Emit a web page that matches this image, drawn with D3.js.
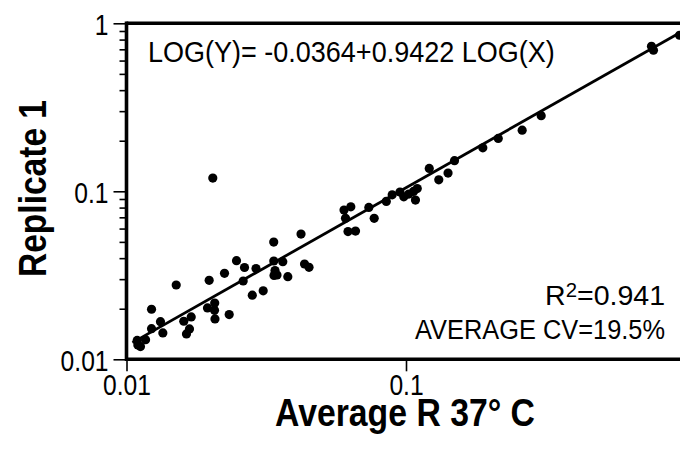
<!DOCTYPE html>
<html>
<head>
<meta charset="utf-8">
<script src="https://cdn.jsdelivr.net/npm/d3@7"></script>
<style>
  html, body { margin: 0; padding: 0; background: #fff; }
  svg { display: block; }
  text { font-family: "Liberation Sans Narrow", "Arial Narrow", "Liberation Sans", Arial, sans-serif; fill: #000; }
</style>
</head>
<body>
<svg id="chart" width="680" height="456"></svg>
<script>
// ---- data ----
const xValues = [0.01092,0.01098,0.01122,0.0117,0.01229,0.01323,0.01229,0.01349,0.01506,0.01603,
  0.01704,0.0168,0.01639,0.02036,0.01976,0.01949,0.02068,0.02065,0.02073,0.02242,
  0.0233,0.02475,0.02644,0.02615,0.02819,0.02906,0.03084,0.03363,0.03365,0.03399,
  0.03455,0.03371,0.03624,0.03777,0.04211,0.04335,0.04498,0.06001,0.06347,0.06075,
  0.06202,0.06597,0.07361,0.07695,0.08502,0.08925,0.09517,0.0982,0.1023,0.1064,
  0.1097,0.1081,0.1211,0.131,0.1414,0.1491,0.1883,0.2138,0.2604,0.3046,
  0.7556,0.768,0.952];
const yValues = [0.01295,0.01218,0.0119,0.01309,0.01986,0.01675,0.01522,0.01435,0.02769,0.01685,
  0.01787,0.01516,0.01416,0.1198,0.02953,0.02021,0.02164,0.01958,0.01739,0.0325,
  0.01845,0.03862,0.03518,0.02925,0.02408,0.03466,0.02557,0.04989,0.03846,0.03377,
  0.03175,0.03153,0.03809,0.03102,0.05566,0.03692,0.03528,0.07731,0.08087,0.06901,
  0.0576,0.058,0.08022,0.06901,0.0871,0.09533,0.0989,0.09274,0.09625,0.09986,
  0.1038,0.08867,0.1368,0.1171,0.1283,0.1522,0.1814,0.2063,0.2311,0.2819,
  0.7302,0.6911,0.8487];
const xTickValues = [0.01, 0.1];
const xTickLabels = ["0.01", "0.1"];
const yTickValues = [0.01, 0.1, 1];
const yTickLabels = ["0.01", "0.1", "1"];
const yMinorTicks = [0.02,0.03,0.04,0.05,0.06,0.07,0.08,0.09,0.2,0.3,0.4,0.5,0.6,0.7,0.8,0.9];
const fitIntercept = -0.0364;
const fitSlope = 0.9422;
const fitXRange = [0.0105, 1];
const xTitle = "Average R 37° C";
const yTitle = "Replicate 1";
const equationText = "LOG(Y)= -0.0364+0.9422 LOG(X)";
const r2Text = "0.941";
const cvText = "AVERAGE CV=19.5%";

// ---- layout ----
const svg = d3.select("#chart");
const plotLeft = 126.5, plotTop = 23.3, plotBottom = 359.3;
const decadeX = 279.5;
const x = d3.scaleLog().domain([0.01, 1]).range([plotLeft, plotLeft + 2 * decadeX]);
const y = d3.scaleLog().domain([0.01, 1]).range([plotBottom, plotTop]);

// condensed-text helper: squeeze a text horizontally to a target width around its anchor
function squeeze(g, targetWidth) {
  const w = g.node().getBBox().width;
  const s = targetWidth / w;
  g.attr("transform", g.attr("transform") + ` scale(${s},1)`);
}
function condenseTicks(sel, factor) {
  sel.each(function () {
    const len = this.getComputedTextLength();
    d3.select(this).attr("textLength", len * factor).attr("lengthAdjust", "spacingAndGlyphs");
  });
}

// fit line
const fitPts = fitXRange.map(v => [v, Math.pow(10, fitIntercept + fitSlope * Math.log10(v))]);
svg.append("path")
  .attr("d", d3.line().x(d => x(d[0])).y(d => y(d[1]))(fitPts))
  .attr("fill", "none").attr("stroke", "#000").attr("stroke-width", 2.8);

// points
svg.append("g").selectAll("circle").data(xValues.map((v, i) => [v, yValues[i]])).join("circle")
  .attr("cx", d => x(d[0])).attr("cy", d => y(d[1])).attr("r", 4.6).attr("fill", "#000");

// axes
const yAxis = d3.axisLeft(y).tickValues(yTickValues).tickFormat((d, i) => yTickLabels[i])
  .tickSize(13).tickSizeOuter(0).tickPadding(5);
const gy = svg.append("g").attr("transform", `translate(${plotLeft},0)`).call(yAxis);
gy.select(".domain").remove();
gy.selectAll(".tick line").attr("stroke-width", 1.6);
gy.selectAll(".tick text").style("font-size", "30px").attr("dy", "0.36em");
condenseTicks(gy.selectAll(".tick text"), 0.82);

const yMinorAxis = d3.axisLeft(y).tickValues(yMinorTicks).tickFormat("").tickSize(7).tickSizeOuter(0);
const gym = svg.append("g").attr("transform", `translate(${plotLeft},0)`).call(yMinorAxis);
gym.select(".domain").remove();
gym.selectAll(".tick line").attr("stroke-width", 1.6);

const xAxis = d3.axisBottom(x).tickValues(xTickValues).tickFormat((d, i) => xTickLabels[i])
  .tickSize(12).tickSizeOuter(0).tickPadding(3);
const gx = svg.append("g").attr("transform", `translate(0,${plotBottom})`).call(xAxis);
gx.select(".domain").remove();
gx.selectAll(".tick line").attr("stroke-width", 1.6);
gx.selectAll(".tick text").style("font-size", "30px").attr("dy", "0.7em");
condenseTicks(gx.selectAll(".tick text"), 0.82);

// frame lines (left, bottom, top)
const frame = svg.append("g").attr("stroke", "#000").attr("stroke-width", 3.6).attr("fill", "none");
frame.append("line").attr("x1", plotLeft).attr("x2", plotLeft).attr("y1", plotTop - 1.8).attr("y2", plotBottom + 1.8);
frame.append("line").attr("x1", plotLeft).attr("x2", x(1)).attr("y1", plotBottom).attr("y2", plotBottom);
frame.append("line").attr("x1", plotLeft).attr("x2", x(1)).attr("y1", plotTop).attr("y2", plotTop);

// annotations
const eq = svg.append("g").attr("transform", "translate(148,62)");
eq.append("text").style("font-size", "30px").text(equationText);
squeeze(eq, 407);

const r2g = svg.append("g").attr("transform", "translate(665,305)");
const r2 = r2g.append("text").attr("text-anchor", "end").style("font-size", "28px");
r2.append("tspan").text("R");
r2.append("tspan").attr("dy", -8).style("font-size", "20px").text("2");
r2.append("tspan").attr("dy", 8).text("=" + r2Text);
squeeze(r2g, 120);

const cvg = svg.append("g").attr("transform", "translate(665,339)");
cvg.append("text").attr("text-anchor", "end").style("font-size", "28px").text(cvText);
squeeze(cvg, 250);

// axis titles
const xt = svg.append("g").attr("transform", "translate(405,426)");
xt.append("text").attr("text-anchor", "middle")
  .style("font-size", "39px").style("font-weight", "bold").text(xTitle);
squeeze(xt, 260);

const yt = svg.append("g").attr("transform", "translate(46,188.5) rotate(-90)");
yt.append("text").attr("text-anchor", "middle")
  .style("font-size", "39px").style("font-weight", "bold").text(yTitle);
squeeze(yt, 177);
</script>
</body>
</html>
